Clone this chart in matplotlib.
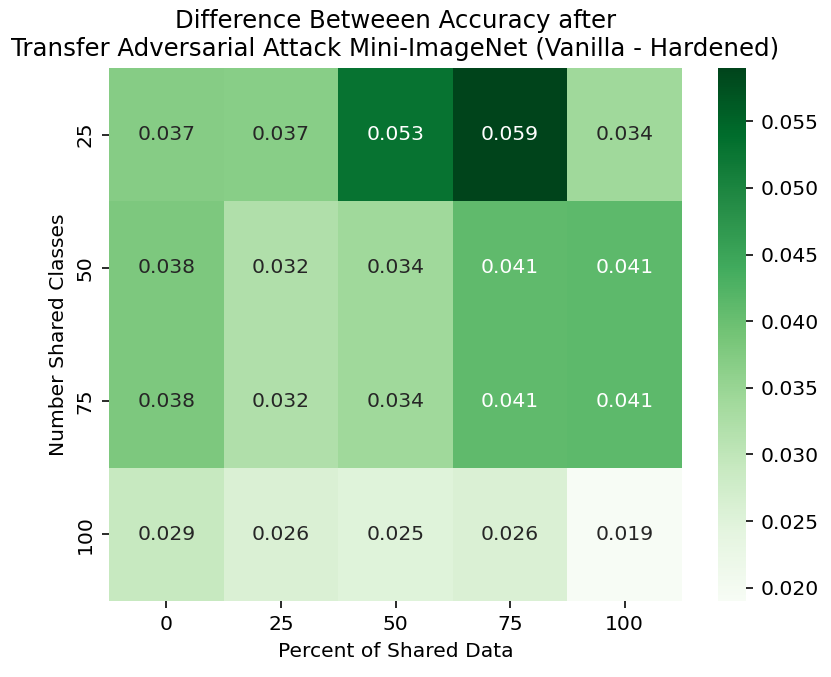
import numpy as np
import matplotlib
matplotlib.use("Agg")
import matplotlib.pyplot as plt
import seaborn as sns

# shared classes (rows) x percent of shared data (columns)
shared_classes = [25, 50, 75, 100]
shared_data = [0, 25, 50, 75, 100]
diff = np.array([
    [0.0370, 0.0368, 0.0530, 0.0590, 0.0340],
    [0.0380, 0.0320, 0.0340, 0.0410, 0.0412],
    [0.0380, 0.0320, 0.0340, 0.0410, 0.0412],
    [0.0290, 0.0260, 0.0250, 0.0260, 0.0190],
])

dpi = 146
fig = plt.figure(figsize=(831 / dpi, 677 / dpi), dpi=dpi)
ax = fig.add_axes([109 / 831, 1 - 601 / 677, 573 / 831, 533 / 677])
cax = fig.add_axes([718 / 831, 1 - 601 / 677, 28 / 831, 533 / 677])

sns.heatmap(diff, annot=True, fmt=".3f", cmap="Greens", ax=ax, cbar_ax=cax,
            xticklabels=shared_data, yticklabels=shared_classes)
cax.tick_params(labelsize=10)
cax.yaxis.set_major_formatter(matplotlib.ticker.FormatStrFormatter("%.3f"))
ax.set_xlabel("Percent of Shared Data")
ax.set_ylabel("Number Shared Classes")
ax.set_title("Difference Betweeen Accuracy after\n"
             "Transfer Adversarial Attack Mini-ImageNet (Vanilla - Hardened)")

fig.savefig("out.png", dpi=dpi)
